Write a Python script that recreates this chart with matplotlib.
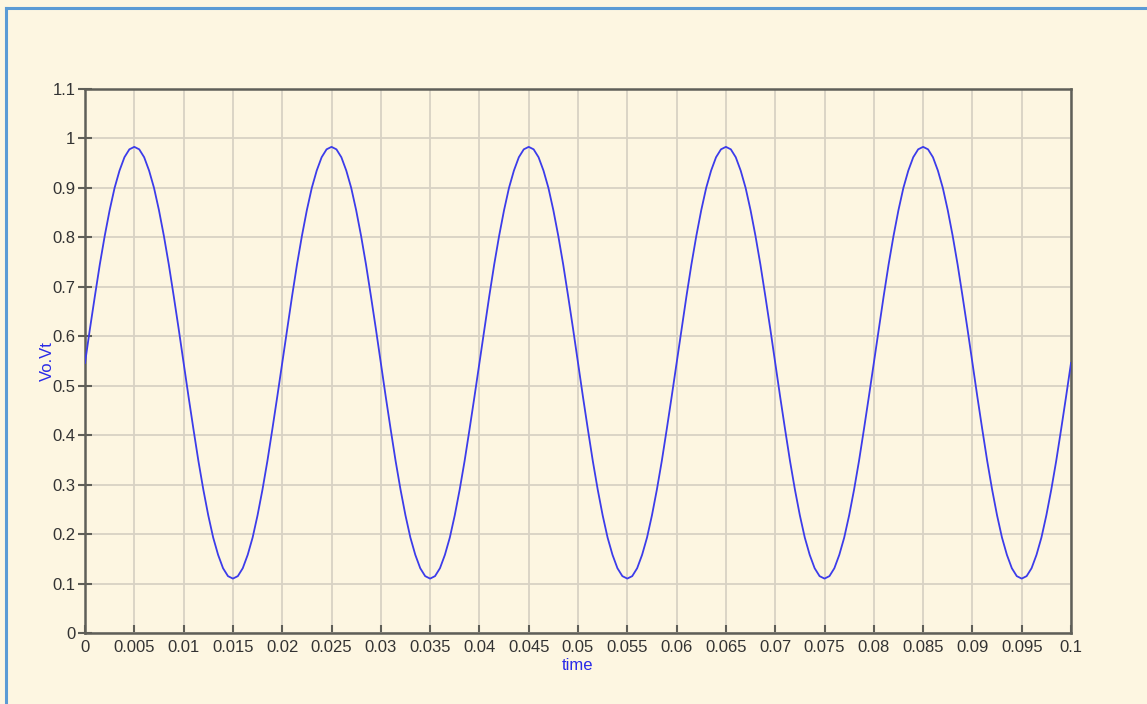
import matplotlib
matplotlib.use("Agg")
import matplotlib.pyplot as plt
from matplotlib.lines import Line2D

time = [i * 0.0005 for i in range(201)]
vo_vt = [
    0.546, 0.615, 0.681, 0.745, 0.803, 0.855, 0.900, 0.935, 0.962, 0.978,
    0.983, 0.978, 0.962, 0.935, 0.900, 0.855, 0.803, 0.745, 0.681, 0.615,
    0.546, 0.478, 0.412, 0.348, 0.290, 0.238, 0.193, 0.158, 0.131, 0.115,
    0.110, 0.115, 0.131, 0.158, 0.193, 0.238, 0.290, 0.348, 0.412, 0.478,
    0.546, 0.615, 0.681, 0.745, 0.803, 0.855, 0.900, 0.935, 0.962, 0.978,
    0.983, 0.978, 0.962, 0.935, 0.900, 0.855, 0.803, 0.745, 0.681, 0.615,
    0.546, 0.478, 0.412, 0.348, 0.290, 0.238, 0.193, 0.158, 0.131, 0.115,
    0.110, 0.115, 0.131, 0.158, 0.193, 0.238, 0.290, 0.348, 0.412, 0.478,
    0.546, 0.615, 0.681, 0.745, 0.803, 0.855, 0.900, 0.935, 0.962, 0.978,
    0.983, 0.978, 0.962, 0.935, 0.900, 0.855, 0.803, 0.745, 0.681, 0.615,
    0.546, 0.478, 0.412, 0.348, 0.290, 0.238, 0.193, 0.158, 0.131, 0.115,
    0.110, 0.115, 0.131, 0.158, 0.193, 0.238, 0.290, 0.348, 0.412, 0.478,
    0.546, 0.615, 0.681, 0.745, 0.803, 0.855, 0.900, 0.935, 0.962, 0.978,
    0.983, 0.978, 0.962, 0.935, 0.900, 0.855, 0.803, 0.745, 0.681, 0.615,
    0.546, 0.478, 0.412, 0.348, 0.290, 0.238, 0.193, 0.158, 0.131, 0.115,
    0.110, 0.115, 0.131, 0.158, 0.193, 0.238, 0.290, 0.348, 0.412, 0.478,
    0.546, 0.615, 0.681, 0.745, 0.803, 0.855, 0.900, 0.935, 0.962, 0.978,
    0.983, 0.978, 0.962, 0.935, 0.900, 0.855, 0.803, 0.745, 0.681, 0.615,
    0.546, 0.478, 0.412, 0.348, 0.290, 0.238, 0.193, 0.158, 0.131, 0.115,
    0.110, 0.115, 0.131, 0.158, 0.193, 0.238, 0.290, 0.348, 0.412, 0.478,
    0.546,
]
x_ticks = [i * 0.005 for i in range(21)]
x_tick_labels = ["0", "0.005", "0.01", "0.015", "0.02", "0.025", "0.03", "0.035",
                 "0.04", "0.045", "0.05", "0.055", "0.06", "0.065", "0.07", "0.075",
                 "0.08", "0.085", "0.09", "0.095", "0.1"]
y_ticks = [i * 0.1 for i in range(12)]
y_tick_labels = ["0", "0.1", "0.2", "0.3", "0.4", "0.5", "0.6", "0.7", "0.8", "0.9", "1", "1.1"]

plt.rcParams['font.family'] = ['Liberation Sans', 'DejaVu Sans']
bg = "#fdf6e1"

fig = plt.figure(figsize=(11.47, 7.04), dpi=100)
fig.patch.set_facecolor(bg)
# blue frame (left and top edges)
fig.add_artist(Line2D([5.5 / 1147, 5.5 / 1147], [0, 1 - 7.5 / 704], color="#5b9bd5", lw=2.2,
                      transform=fig.transFigure))
fig.add_artist(Line2D([5.5 / 1147, 1], [1 - 7.5 / 704, 1 - 7.5 / 704], color="#5b9bd5", lw=2.2,
                      transform=fig.transFigure))

ax = fig.add_axes([85 / 1147, 1 - 633 / 704, (1071 - 85) / 1147, (633 - 89) / 704])
ax.set_facecolor(bg)
ax.plot(time, vo_vt, color="#3c3cea", lw=1.3, zorder=3)

ax.set_xlim(0, 0.1)
ax.set_ylim(0, 1.1)
ax.set_xticks(x_ticks)
ax.set_xticklabels(x_tick_labels)
ax.set_yticks(y_ticks)
ax.set_yticklabels(y_tick_labels)
ax.grid(True, color="#d8d2c4", lw=1.3, zorder=0)
ax.set_axisbelow(True)

for s in ax.spines.values():
    s.set_color("#5f5f58")
    s.set_linewidth(1.8)

ax.tick_params(axis="x", direction="in", length=6, width=1.5, color="#5f5f58",
               labelsize=12, labelcolor="#333333", pad=5)
ax.tick_params(axis="y", direction="inout", length=10, width=1.5, color="#5f5f58",
               labelsize=12, labelcolor="#333333", pad=2)

ax.set_xlabel("time", color="#2a2ae8", fontsize=12, labelpad=2)
ax.set_ylabel("Vo.Vt", color="#2a2ae8", fontsize=12, labelpad=-2)

fig.savefig("out.png", dpi=100, facecolor=bg)
